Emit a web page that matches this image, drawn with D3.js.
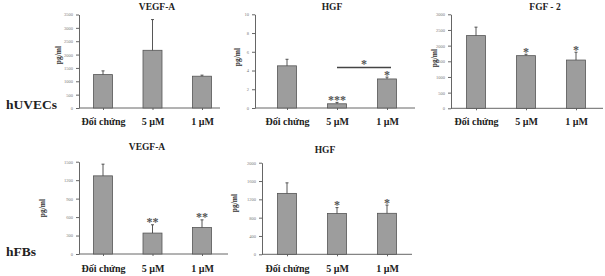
<!DOCTYPE html>
<html>
<head>
<meta charset="utf-8">
<script src="https://cdn.jsdelivr.net/npm/d3@7"></script>
<style>
body { margin: 0; background: #fff; }
svg { display: block; }
</style>
</head>
<body>
<div class="content"></div>
<script>
var categories = ["Đối chứng", "5 µM", "1 µM"];

var vegfTopMean = [1250, 2160, 1190];
var vegfTopErr = [140, 1150, 40];
var vegfTopTicks = [0, 500, 1000, 1500, 2000, 2500, 3000, 3500];

var hgfTopMean = [4.5, 0.45, 3.1];
var hgfTopErr = [0.7, 0.15, 0.2];
var hgfTopTicks = [0, 2, 4, 6, 8, 10];
var hgfTopStars = ["", "***", "*"];

var fgfMean = [2320, 1680, 1540];
var fgfErr = [270, 45, 250];
var fgfTicks = [0, 500, 1000, 1500, 2000, 2500, 3000];
var fgfStars = ["", "*", "*"];

var vegfBotMean = [1270, 340, 430];
var vegfBotErr = [190, 135, 125];
var vegfBotTicks = [0, 300, 600, 900, 1200, 1500];
var vegfBotStars = ["", "**", "**"];

var hgfBotMean = [1330, 890, 895];
var hgfBotErr = [230, 130, 180];
var hgfBotTicks = [0, 400, 800, 1200, 1600, 2000];
var hgfBotStars = ["", "*", "*"];

var width = 605;
var height = 276;
var serif = "'Liberation Serif', 'Times New Roman', serif";
var svg = d3.select(".content").append("svg").attr("width", width).attr("height", height);

function panel(p) {
  var y = d3.scaleLinear().domain([0, p.ticks[p.ticks.length - 1]]).range([p.bottom, p.top]);
  var x = d3.scalePoint().domain(categories).range([p.c1, p.c3]);
  var g = svg.append("g");
  var bw = 19;

  // y axis
  var ya = g.append("g").attr("transform", "translate(" + p.x0 + ",0)")
    .call(d3.axisLeft(y).tickValues(p.ticks).tickFormat(d3.format("d")).tickSize(3).tickPadding(3).tickSizeOuter(0));
  ya.select(".domain").attr("stroke", "#666");
  ya.selectAll(".tick line").attr("stroke", "#666");
  ya.selectAll("text").attr("font-size", 4.5).attr("font-family", serif).attr("fill", "#777");

  // x axis
  var xa = g.append("g").attr("transform", "translate(0," + p.bottom + ")")
    .call(d3.axisBottom(x).tickSize(2).tickPadding(p.pad));
  xa.select(".domain").remove();
  xa.selectAll(".tick line").attr("stroke", "#666");
  xa.selectAll("text").attr("font-size", 10).attr("font-weight", "bold")
    .attr("font-family", serif).attr("fill", "#222");
  g.append("path").attr("d", "M" + p.x0 + "," + p.bottom + "L" + p.xEnd + "," + p.bottom)
    .attr("stroke", "#666").attr("fill", "none");

  // bars
  g.selectAll("rect.bar").data(p.mean).enter().append("rect").attr("class", "bar")
    .attr("x", function(d, i) { return x(categories[i]) - bw / 2; })
    .attr("y", function(d) { return y(d); })
    .attr("width", bw)
    .attr("height", function(d) { return y(0) - y(d); })
    .attr("fill", "#9d9d9d").attr("stroke", "#555").attr("stroke-width", 0.8);

  // error bars (upper half only)
  g.selectAll("path.err").data(p.mean).enter().append("path").attr("class", "err")
    .attr("d", function(d, i) {
      var cx = x(categories[i]);
      var t = y(d + p.err[i]);
      return "M" + cx + "," + y(d) + "L" + cx + "," + t + "M" + (cx - 1.5) + "," + t + "L" + (cx + 1.5) + "," + t;
    })
    .attr("stroke", "#444").attr("stroke-width", 0.9).attr("fill", "none");

  // stars
  if (p.stars) {
    g.selectAll("text.star").data(p.stars).enter().append("text").attr("class", "star")
      .attr("x", function(d, i) { return x(categories[i]); })
      .attr("y", function(d, i) { return y(p.mean[i] + p.err[i]) + 1.5; })
      .attr("text-anchor", "middle").attr("font-size", 12).attr("font-weight", "bold")
      .attr("font-family", serif).attr("fill", "#555")
      .text(function(d) { return d; });
  }

  // title
  g.append("text").attr("x", p.tx).attr("y", p.ty).attr("text-anchor", "middle")
    .attr("font-size", 9.5).attr("font-weight", "bold").attr("font-family", serif).attr("fill", "#222")
    .text(p.title);

  // y label
  g.append("text").attr("transform", "translate(" + p.lx + "," + p.ly + ") rotate(-90)")
    .attr("text-anchor", "middle").attr("font-size", 7.5).attr("font-weight", "bold")
    .attr("font-family", serif).attr("fill", "#333").text("pg/ml");

  return { x: x, y: y, g: g };
}

panel({ title: "VEGF-A", mean: vegfTopMean, err: vegfTopErr, ticks: vegfTopTicks,
  x0: 79, xEnd: 220, top: 14.5, bottom: 108, c1: 103, c3: 202, pad: 8,
  tx: 157, ty: 10, lx: 61, ly: 55 });

var hgf = panel({ title: "HGF", mean: hgfTopMean, err: hgfTopErr, ticks: hgfTopTicks, stars: hgfTopStars,
  x0: 255, xEnd: 415, top: 14.3, bottom: 108, c1: 287, c3: 387, pad: 8,
  tx: 332, ty: 10, lx: 240, ly: 57 });

// significance bar between 5 µM and 1 µM
hgf.g.append("path")
  .attr("d", "M" + hgf.x(categories[1]) + "," + 67.5 + "L" + (hgf.x(categories[2]) + 4) + "," + 67.5)
  .attr("stroke", "#444").attr("stroke-width", 1.6).attr("fill", "none");
hgf.g.append("text").attr("x", (hgf.x(categories[1]) + hgf.x(categories[2])) / 2 + 2).attr("y", 68)
  .attr("text-anchor", "middle").attr("font-size", 12).attr("font-weight", "bold")
  .attr("font-family", serif).attr("fill", "#555").text("*");

panel({ title: "FGF - 2", mean: fgfMean, err: fgfErr, ticks: fgfTicks, stars: fgfStars,
  x0: 451, xEnd: 603, top: 14.3, bottom: 108.3, c1: 476, c3: 576, pad: 8,
  tx: 545, ty: 10, lx: 437, ly: 58 });

panel({ title: "VEGF-A", mean: vegfBotMean, err: vegfBotErr, ticks: vegfBotTicks, stars: vegfBotStars,
  x0: 79, xEnd: 228, top: 161.7, bottom: 254, c1: 103, c3: 202, pad: 9,
  tx: 147, ty: 150, lx: 45, ly: 208 });

panel({ title: "HGF", mean: hgfBotMean, err: hgfBotErr, ticks: hgfBotTicks, stars: hgfBotStars,
  x0: 262, xEnd: 412, top: 162.7, bottom: 254.3, c1: 287, c3: 387, pad: 9,
  tx: 325, ty: 153, lx: 237, ly: 203 });

// row labels
svg.append("text").attr("x", 6).attr("y", 109).attr("font-size", 13.5).attr("font-weight", "bold")
  .attr("font-family", serif).attr("fill", "#222").text("hUVECs");
svg.append("text").attr("x", 6).attr("y", 256).attr("font-size", 13.5).attr("font-weight", "bold")
  .attr("font-family", serif).attr("fill", "#222").text("hFBs");
</script>
</body>
</html>
